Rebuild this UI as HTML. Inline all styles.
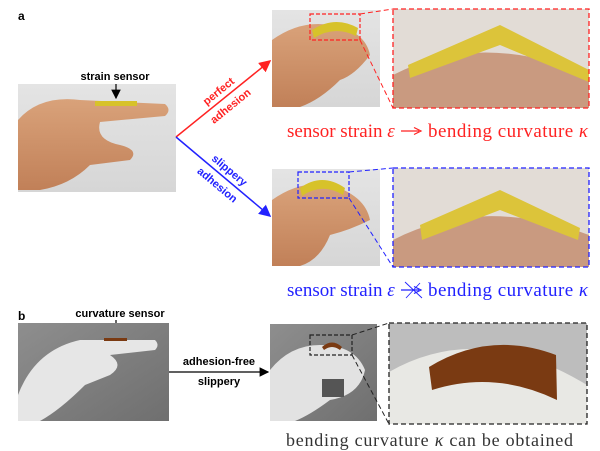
<!DOCTYPE html>
<html><head><meta charset="utf-8"><style>
body{margin:0;background:#fff;width:600px;height:451px;overflow:hidden}
svg{display:block}
.s{font-family:"Liberation Sans",sans-serif;font-weight:bold}
.r{font-family:"Liberation Serif",serif}
</style></head><body>
<svg width="600" height="451" viewBox="0 0 600 451">
<defs>
<linearGradient id="bg" x1="0" y1="0" x2="0" y2="1"><stop offset="0" stop-color="#e4e4e4"/><stop offset="1" stop-color="#d6d6d6"/></linearGradient>
<linearGradient id="skin" x1="0" y1="0" x2="0" y2="1"><stop offset="0" stop-color="#d9a27a"/><stop offset="1" stop-color="#c18058"/></linearGradient>
<linearGradient id="gr" x1="0" y1="0" x2="1" y2="1"><stop offset="0" stop-color="#8e8e8e"/><stop offset="1" stop-color="#6f6f6f"/></linearGradient>
<marker id="ar" markerWidth="8" markerHeight="8" refX="7" refY="4" orient="auto"><path d="M0,0 L8,4 L0,8z" fill="#f22"/></marker>
<marker id="ab" markerWidth="8" markerHeight="8" refX="7" refY="4" orient="auto"><path d="M0,0 L8,4 L0,8z" fill="#22f"/></marker>
<marker id="ak" markerWidth="8" markerHeight="8" refX="7" refY="4" orient="auto"><path d="M0,0 L8,4 L0,8z" fill="#000"/></marker>
</defs>
<text x="18" y="20" class="s" font-size="12">a</text>
<rect x="18" y="84" width="158" height="108" fill="url(#bg)"/>
<path d="M18,190 L18,120 Q40,95 80,100 L165,104 Q172,110 165,116 L100,122 Q95,140 120,145 Q140,150 130,160 L90,165 Q70,185 40,190z" fill="url(#skin)"/>
<rect x="95" y="101" width="42" height="5" fill="#d7c22a"/>
<text x="115" y="80" class="s" font-size="11" text-anchor="middle">strain sensor</text>
<line x1="116" y1="84" x2="116" y2="98" stroke="#000" stroke-width="1.2" marker-end="url(#ak)"/>
<line x1="176" y1="137" x2="270" y2="61" stroke="#f22" stroke-width="1.5" marker-end="url(#ar)"/>
<line x1="176" y1="137" x2="270" y2="216" stroke="#22f" stroke-width="1.5" marker-end="url(#ab)"/>
<g transform="translate(224,98) rotate(-39)" class="s" font-size="11" fill="#f22" text-anchor="middle"><text x="0" y="-5">perfect</text><text x="0" y="14">adhesion</text></g>
<g transform="translate(224,177) rotate(40)" class="s" font-size="11" fill="#22f" text-anchor="middle"><text x="0" y="-5">slippery</text><text x="0" y="14">adhesion</text></g>
<rect x="272" y="10" width="108" height="97" fill="url(#bg)"/>
<path d="M272,107 L272,40 Q300,20 330,25 Q365,30 370,55 Q355,75 340,80 Q320,100 300,107z" fill="url(#skin)"/>
<path d="M312,30 Q335,15 358,28 L356,36 Q335,25 314,38z" fill="#d7c22a"/>
<rect x="310" y="14" width="50" height="26" fill="none" stroke="#f22" stroke-width="1.2" stroke-dasharray="4,2"/>
<rect x="393" y="9" width="196" height="99" fill="#e2dcd6"/>
<path d="M393,108 L393,75 Q480,30 589,75 L589,108z" fill="#c99a80"/>
<path d="M408,65 L500,25 L589,70 L589,82 L500,45 L410,78z" fill="#dcc43a"/>
<rect x="393" y="9" width="196" height="99" fill="none" stroke="#f22" stroke-width="1.3" stroke-dasharray="5,3"/>
<line x1="360" y1="14" x2="393" y2="9" stroke="#f22" stroke-dasharray="5,3"/>
<line x1="360" y1="40" x2="393" y2="108" stroke="#f22" stroke-dasharray="5,3"/>
<text x="287" y="137" class="r" font-size="19" fill="#f22">sensor strain <tspan font-style="italic">ε</tspan></text>
<line x1="401" y1="131" x2="419" y2="131" stroke="#f22" stroke-width="1.2"/>
<path d="M414,127.5 L421,131 L414,134.5" fill="none" stroke="#f22" stroke-width="1.2"/>
<text x="588" y="137" class="r" font-size="19" fill="#f22" text-anchor="end" textLength="160">bending curvature <tspan font-style="italic">κ</tspan></text>
<rect x="272" y="169" width="108" height="97" fill="url(#bg)"/>
<path d="M272,266 L272,200 Q300,180 330,185 Q365,195 370,220 Q350,230 330,235 Q320,260 300,266z" fill="url(#skin)"/>
<path d="M300,188 Q322,172 345,188 L343,195 Q322,182 302,196z" fill="#d7c22a"/>
<rect x="298" y="172" width="51" height="26" fill="none" stroke="#22f" stroke-width="1.2" stroke-dasharray="4,2"/>
<rect x="393" y="168" width="196" height="99" fill="#e2dcd6"/>
<path d="M393,267 L393,240 Q480,195 589,235 L589,267z" fill="#c99a80"/>
<path d="M420,225 L500,190 L580,228 L578,240 L500,210 L422,240z" fill="#dcc43a"/>
<rect x="393" y="168" width="196" height="99" fill="none" stroke="#22f" stroke-width="1.3" stroke-dasharray="5,3"/>
<line x1="349" y1="172" x2="393" y2="168" stroke="#22f" stroke-dasharray="5,3"/>
<line x1="349" y1="198" x2="393" y2="267" stroke="#22f" stroke-dasharray="5,3"/>
<text x="287" y="296" class="r" font-size="19" fill="#22f">sensor strain <tspan font-style="italic">ε</tspan></text>
<line x1="401" y1="290" x2="419" y2="290" stroke="#22f" stroke-width="1.2"/>
<path d="M414,286.5 L421,290 L414,293.5" fill="none" stroke="#22f" stroke-width="1.2"/>
<path d="M405,282 L422,298 M406,298 L420,283" stroke="#22f" stroke-width="0.9"/>
<text x="588" y="296" class="r" font-size="19" fill="#22f" text-anchor="end" textLength="160">bending curvature <tspan font-style="italic">κ</tspan></text>
<text x="18" y="320" class="s" font-size="12">b</text>
<text x="120" y="317" class="s" font-size="11" text-anchor="middle">curvature sensor</text>
<line x1="116" y1="320" x2="116" y2="333" stroke="#000" stroke-width="1.2" marker-end="url(#ak)"/>
<rect x="18" y="323" width="151" height="98" fill="url(#gr)"/>
<path d="M18,421 L18,395 Q35,350 80,340 L155,340 Q160,345 155,350 L110,355 Q125,365 110,375 L85,385 Q60,410 40,421z" fill="#e6e6e6"/>
<rect x="104" y="338" width="23" height="3" fill="#7a3a12"/>
<line x1="169" y1="372" x2="268" y2="372" stroke="#000" stroke-width="1.2" marker-end="url(#ak)"/>
<text x="219" y="365" class="s" font-size="11" text-anchor="middle">adhesion-free</text>
<text x="219" y="385" class="s" font-size="11" text-anchor="middle">slippery</text>
<rect x="270" y="324" width="107" height="97" fill="url(#gr)"/>
<path d="M270,421 L270,370 Q290,345 320,345 Q355,345 365,370 Q360,395 330,400 Q310,415 295,421z" fill="#e2e2e2"/>
<rect x="322" y="379" width="22" height="18" fill="#555"/>
<path d="M322,347 Q332,338 342,347 L340,350 Q332,344 324,350z" fill="#7a3a12"/>
<rect x="310" y="335" width="42" height="20" fill="none" stroke="#222" stroke-width="1.2" stroke-dasharray="4,2"/>
<rect x="389" y="323" width="198" height="101" fill="#bdbdbd"/>
<path d="M389,424 L389,372 Q480,320 587,385 L587,424z" fill="#e8e8e4"/>
<path d="M429,367 Q490,330 556,355 L557,400 Q495,370 432,390z" fill="#7a3a12"/>
<rect x="389" y="323" width="198" height="101" fill="none" stroke="#222" stroke-width="1.3" stroke-dasharray="5,3"/>
<line x1="352" y1="335" x2="389" y2="323" stroke="#222" stroke-dasharray="5,3"/>
<line x1="352" y1="355" x2="389" y2="424" stroke="#222" stroke-dasharray="5,3"/>
<text x="286" y="446" class="r" font-size="18" fill="#333" textLength="287">bending curvature <tspan font-style="italic">κ</tspan> can be obtained</text>
</svg>
</body></html>
